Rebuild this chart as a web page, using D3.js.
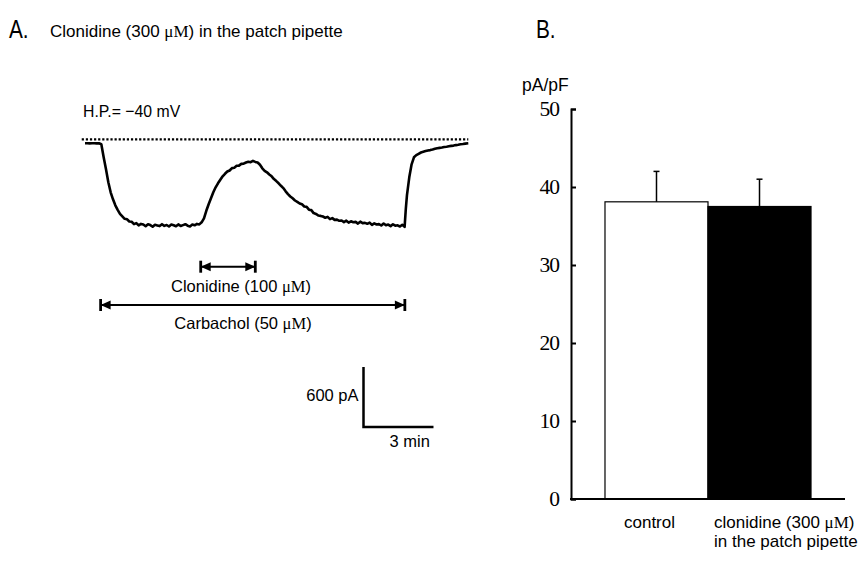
<!DOCTYPE html>
<html><head><meta charset="utf-8">
<script src="https://cdn.jsdelivr.net/npm/d3@7"></script>
<style>body{margin:0;background:#fff}svg{display:block}</style>
</head><body><svg id="c" width="859" height="561"></svg>
<script>
// ---------- DATA ----------
// Panel A: whole-cell current trace (time in min, current in pA)
const traceTime = [0.0,0.1,0.2,0.3,0.4,0.5,0.6,0.7,0.8,0.9,1.0,1.1,1.2,1.3,1.4,1.5,1.6,1.7,1.8,1.9,
  2.0,2.1,2.2,2.3,2.4,2.5,2.6,2.7,2.8,2.9,3.0,3.1,3.2,3.3,3.4,3.5,3.6,3.7,3.8,3.9,
  4.0,4.1,4.2,4.3,4.4,4.5,4.6,4.7,4.8,4.9,5.0,5.1,5.2,5.3,5.4,5.5,5.6,5.7,5.8,5.9,
  6.0,6.1,6.2,6.3,6.4,6.5,6.6,6.7,6.8,6.9,7.0,7.1,7.2,7.3,7.4,7.5,7.6,7.7,7.8,7.9,
  8.0,8.1,8.2,8.3,8.4,8.5,8.6,8.7,8.8,8.9,9.0,9.1,9.2,9.3,9.4,9.5,9.6,9.7,9.8,9.9,
  10.0,10.1,10.2,10.3,10.4,10.5,10.6,10.7,10.8,10.9,11.0,11.1,11.2,11.3,11.4,11.5,11.6,11.7,11.8,11.9,
  12.0,12.1,12.2,12.3,12.4,12.5,12.6,12.7,12.8,12.9,13.0,13.1,13.2,13.3,13.4,13.5,13.6,13.7,13.75,13.8,
  13.9,14.0,14.1,14.2,14.3,14.4,14.5,14.6,14.7,14.8,14.9,15.0,15.1,15.2,15.3,15.4,15.5,15.6,15.7,15.8,
  15.9,16.0,16.1,16.2,16.3,16.43];
const traceCurrent = [-40,-40,-41,-40,-40,-41,-40,-50,-180,-300,-430,-530,-600,-660,-705,-745,-770,-795,-800,-822,
  -825,-848,-838,-860,-846,-852,-869,-850,-858,-874,-855,-861,-868,-849,-866,-857,-872,-853,-860,-870,
  -851,-867,-858,-849,-864,-871,-852,-860,-846,-851,-830,-790,-715,-650,-590,-530,-480,-440,-405,-370,
  -345,-322,-312,-288,-284,-265,-263,-246,-244,-232,-224,-229,-216,-226,-232,-255,-290,-315,-330,-352,
  -370,-398,-418,-440,-465,-488,-520,-548,-572,-590,-612,-626,-642,-650,-672,-676,-704,-708,-738,-746,
  -762,-766,-772,-785,-776,-798,-788,-806,-803,-815,-812,-828,-814,-833,-820,-829,-826,-843,-824,-838,
  -836,-845,-833,-856,-841,-852,-848,-862,-842,-860,-853,-868,-850,-864,-860,-872,-855,-876,-700,-560,
  -380,-250,-180,-158,-145,-132,-125,-118,-112,-108,-102,-95,-90,-86,-82,-77,-74,-70,-66,-63,
  -58,-55,-50,-47,-43,-40];
const baselineSpan = [-0.14, 16.43];      // dotted zero-current line (min)
const clonidineWindow = [4.96, 7.30];     // min
const carbacholWindow = [0.67, 13.71];    // min
const scaleBarTime = 3;                   // min
const scaleBarCurrent = 600;              // pA

// Panel B: current density
const barCategories = ["control", "clonidine"];
const barMeans = [38.1, 37.5];
const barErrors = [3.9, 3.5];
const barFills = ["#ffffff", "#000000"];
const yTicks = [0, 10, 20, 30, 40, 50];

// ---------- DRAW ----------
const svg = d3.select("#c");
const SANS = "'Liberation Sans', Arial, sans-serif";
const SERIF = "'Liberation Serif', 'Times New Roman', serif";

function muText(sel, before, after) {
  sel.append("tspan").text(before);
  sel.append("tspan").attr("font-family", SERIF).text("μM");
  sel.append("tspan").text(after);
}
function squeeze(sel, x, y, s) {
  return sel.attr("transform", `translate(${x},${y}) scale(${s},1) translate(${-x},${-y})`);
}

// Titles
squeeze(svg.append("text").attr("x", 9).attr("y", 38).attr("font-family", SANS)
  .attr("font-size", 26).text("A."), 9, 38, 0.8);
muText(svg.append("text").attr("x", 50).attr("y", 37).attr("font-family", SANS).attr("font-size", 17),
  "Clonidine (300 ", ") in the patch pipette");
squeeze(svg.append("text").attr("x", 536).attr("y", 38).attr("font-family", SANS)
  .attr("font-size", 26).text("B."), 536, 38, 0.8);

// ----- Panel A -----
const xT = d3.scaleLinear().domain([0, 16.43]).range([85, 468.3]);
const yI = d3.scaleLinear().domain([0, -900]).range([139.3, 229.3]);

squeeze(svg.append("text").attr("x", 83).attr("y", 117).attr("font-family", SANS)
  .attr("font-size", 17).text("H.P.= −40 mV"), 83, 117, 0.93);

svg.append("line").attr("x1", xT(baselineSpan[0])).attr("x2", xT(baselineSpan[1]))
  .attr("y1", yI(0)).attr("y2", yI(0)).attr("stroke", "#000").attr("stroke-width", 2.2)
  .attr("stroke-dasharray", "2.2,1.9");

const tracePts = traceTime.map((t, i) => [t, traceCurrent[i]]);
svg.append("path").datum(tracePts)
  .attr("d", d3.line().x(d => xT(d[0])).y(d => yI(d[1])))
  .attr("fill", "none").attr("stroke", "#000").attr("stroke-width", 2.6)
  .attr("stroke-linejoin", "round");

function drawInterval(win, y, label, labelX, labelY) {
  const g = svg.append("g");
  const x1 = xT(win[0]), x2 = xT(win[1]);
  g.append("line").attr("x1", x1).attr("x2", x2).attr("y1", y).attr("y2", y)
    .attr("stroke", "#000").attr("stroke-width", 2);
  [x1, x2].forEach((x, k) => {
    g.append("line").attr("x1", x).attr("x2", x).attr("y1", y - 6).attr("y2", y + 6)
      .attr("stroke", "#000").attr("stroke-width", 2.8);
    const dir = k === 0 ? 1 : -1;
    g.append("path").attr("d", `M${x},${y} L${x + dir * 10},${y - 4.5} L${x + dir * 10},${y + 4.5} Z`)
      .attr("fill", "#000");
  });
  muText(g.append("text").attr("x", labelX).attr("y", labelY).attr("text-anchor", "middle")
    .attr("font-family", SANS).attr("font-size", 16.5), label[0], label[1]);
}
drawInterval(clonidineWindow, 266.7, ["Clonidine (100 ", ")"], 241, 292);
drawInterval(carbacholWindow, 305, ["Carbachol (50 ", ")"], 243, 329);

// scale bar
const sbX = 363.5, sbY = 427;
const sbW = xT(scaleBarTime) - xT(0), sbH = yI(-scaleBarCurrent) - yI(0);
svg.append("path").attr("d", `M${sbX},${sbY - sbH} L${sbX},${sbY} L${sbX + sbW},${sbY}`)
  .attr("fill", "none").attr("stroke", "#000").attr("stroke-width", 2.5);
svg.append("text").attr("x", sbX - 5).attr("y", 401).attr("text-anchor", "end")
  .attr("font-family", SANS).attr("font-size", 16.5).text(`${scaleBarCurrent} pA`);
svg.append("text").attr("x", sbX + 26).attr("y", 447)
  .attr("font-family", SANS).attr("font-size", 16.5).text(`${scaleBarTime} min`);

// ----- Panel B -----
const y = d3.scaleLinear().domain([0, 50]).range([499, 109]);
const x = d3.scaleBand().domain(barCategories).range([571, 845]).paddingInner(0).paddingOuter(0.33);

svg.append("text").attr("x", 522).attr("y", 91).attr("font-family", SANS)
  .attr("font-size", 17.5).text("pA/pF");

const bars = svg.append("g");
barCategories.forEach((c, i) => {
  bars.append("rect").attr("x", x(c)).attr("y", y(barMeans[i]))
    .attr("width", x.bandwidth()).attr("height", y(0) - y(barMeans[i]))
    .attr("fill", barFills[i]).attr("stroke", "#000").attr("stroke-width", 1.2);
  const cx = x(c) + x.bandwidth() / 2;
  bars.append("line").attr("x1", cx).attr("x2", cx)
    .attr("y1", y(barMeans[i])).attr("y2", y(barMeans[i] + barErrors[i]))
    .attr("stroke", "#000").attr("stroke-width", 1.5);
  bars.append("line").attr("x1", cx - 3).attr("x2", cx + 3)
    .attr("y1", y(barMeans[i] + barErrors[i])).attr("y2", y(barMeans[i] + barErrors[i]))
    .attr("stroke", "#000").attr("stroke-width", 1.5);
});

const yAxis = svg.append("g").attr("transform", "translate(571,0)")
  .call(d3.axisLeft(y).tickValues(yTicks).tickSize(-5).tickPadding(12).tickFormat(d3.format("d")));
yAxis.selectAll("path,line").attr("stroke", "#000").attr("stroke-width", 2);
yAxis.selectAll("text").attr("font-family", SERIF).attr("font-size", 21.5).attr("fill", "#000")
  .attr("letter-spacing", -1);

svg.append("line").attr("x1", 570).attr("x2", 845).attr("y1", y(0)).attr("y2", y(0))
  .attr("stroke", "#000").attr("stroke-width", 2.2);

// category labels
svg.append("text").attr("x", x("control") + x.bandwidth() / 2 - 7).attr("y", 528)
  .attr("text-anchor", "middle").attr("font-family", SANS).attr("font-size", 17).text("control");
const lab2 = svg.append("text").attr("font-family", SANS).attr("font-size", 17);
const lx = x("clonidine") + 6;
muText(lab2.append("tspan").attr("x", lx).attr("y", 528), "clonidine (300 ", ")");
lab2.append("tspan").attr("x", lx).attr("y", 547).text("in the patch pipette");
</script></body></html>
